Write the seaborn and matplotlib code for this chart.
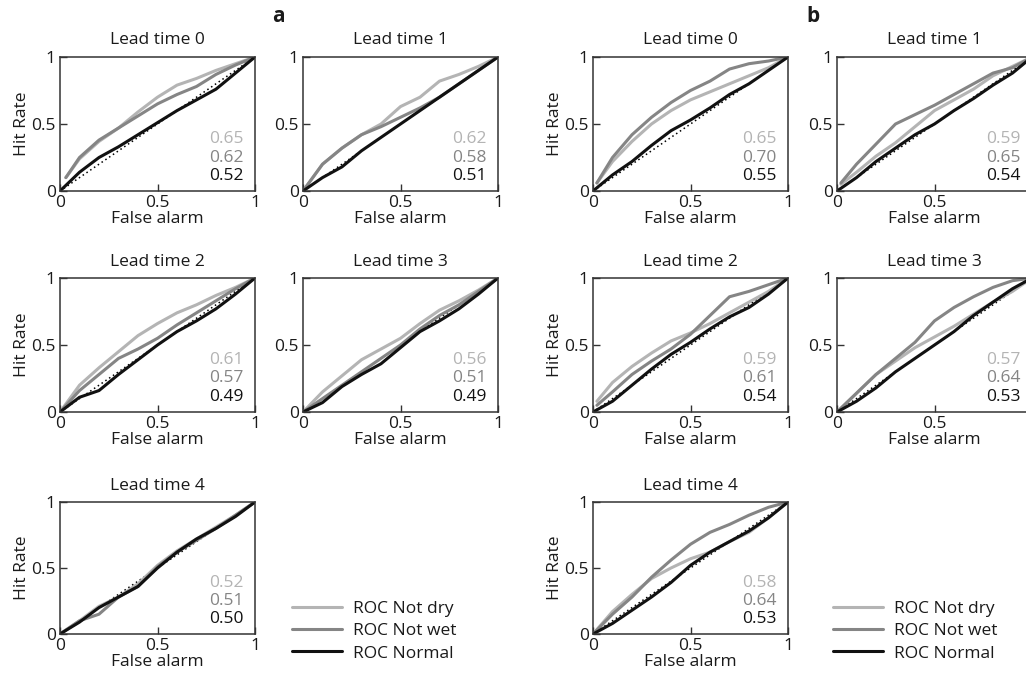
import numpy as np
import pandas as pd
import seaborn as sns
import matplotlib.pyplot as plt

# false alarm grid (first value replaced by start_x for the gray curves)
fa = [0, 0.1, 0.2, 0.3, 0.4, 0.5, 0.6, 0.7, 0.8, 0.9, 1.0]
lead_times = [0, 1, 2, 3, 4]
series = ['ROC Not dry', 'ROC Not wet', 'ROC Normal']

# panel a
a_start = [0.03, 0, 0, 0, 0]
a_not_dry = [
    [0.10, 0.24, 0.37, 0.47, 0.59, 0.70, 0.79, 0.84, 0.90, 0.95, 1],
    [0, 0.20, 0.32, 0.42, 0.50, 0.63, 0.70, 0.82, 0.87, 0.93, 1],
    [0, 0.20, 0.33, 0.45, 0.57, 0.66, 0.74, 0.80, 0.87, 0.93, 1],
    [0, 0.15, 0.27, 0.39, 0.47, 0.55, 0.66, 0.76, 0.83, 0.91, 1],
    [0, 0.10, 0.21, 0.28, 0.38, 0.52, 0.63, 0.72, 0.81, 0.90, 1],
]
a_not_wet = [
    [0.10, 0.25, 0.38, 0.47, 0.56, 0.65, 0.72, 0.78, 0.87, 0.94, 1],
    [0, 0.20, 0.32, 0.42, 0.48, 0.55, 0.62, 0.70, 0.80, 0.90, 1],
    [0, 0.16, 0.28, 0.40, 0.47, 0.55, 0.65, 0.74, 0.83, 0.92, 1],
    [0, 0.10, 0.20, 0.30, 0.40, 0.50, 0.62, 0.72, 0.80, 0.90, 1],
    [0, 0.10, 0.15, 0.28, 0.36, 0.51, 0.62, 0.71, 0.80, 0.90, 1],
]
a_normal = [
    [0, 0.14, 0.25, 0.33, 0.42, 0.51, 0.60, 0.68, 0.76, 0.88, 1],
    [0, 0.10, 0.18, 0.30, 0.40, 0.50, 0.60, 0.70, 0.80, 0.90, 1],
    [0, 0.11, 0.16, 0.28, 0.39, 0.50, 0.60, 0.68, 0.77, 0.88, 1],
    [0, 0.07, 0.19, 0.28, 0.36, 0.48, 0.60, 0.68, 0.77, 0.88, 1],
    [0, 0.09, 0.20, 0.28, 0.36, 0.50, 0.62, 0.72, 0.80, 0.89, 1],
]
a_auc = [[0.65, 0.62, 0.52], [0.62, 0.58, 0.51], [0.61, 0.57, 0.49],
         [0.56, 0.51, 0.49], [0.52, 0.51, 0.50]]

# panel b
b_start = [0.02, 0.02, 0.02, 0, 0]
b_not_dry = [
    [0.06, 0.22, 0.37, 0.50, 0.60, 0.68, 0.74, 0.80, 0.86, 0.92, 1],
    [0.05, 0.14, 0.26, 0.36, 0.48, 0.60, 0.68, 0.76, 0.86, 0.93, 1],
    [0.08, 0.22, 0.34, 0.44, 0.53, 0.59, 0.66, 0.74, 0.82, 0.90, 1],
    [0, 0.14, 0.28, 0.38, 0.48, 0.56, 0.64, 0.73, 0.82, 0.90, 1],
    [0, 0.17, 0.30, 0.42, 0.50, 0.57, 0.62, 0.70, 0.77, 0.88, 1],
]
b_not_wet = [
    [0.06, 0.25, 0.42, 0.55, 0.66, 0.75, 0.82, 0.91, 0.95, 0.97, 1],
    [0.06, 0.20, 0.35, 0.50, 0.57, 0.64, 0.72, 0.80, 0.88, 0.92, 1],
    [0.05, 0.15, 0.28, 0.38, 0.47, 0.58, 0.72, 0.86, 0.90, 0.95, 1],
    [0, 0.14, 0.28, 0.40, 0.52, 0.68, 0.78, 0.86, 0.93, 0.98, 1],
    [0, 0.15, 0.28, 0.43, 0.56, 0.68, 0.77, 0.83, 0.90, 0.96, 1],
]
b_normal = [
    [0, 0.12, 0.22, 0.34, 0.45, 0.53, 0.62, 0.72, 0.80, 0.90, 1],
    [0, 0.10, 0.22, 0.32, 0.42, 0.50, 0.60, 0.69, 0.79, 0.88, 1],
    [0, 0.08, 0.20, 0.32, 0.43, 0.52, 0.62, 0.71, 0.78, 0.88, 1],
    [0, 0.08, 0.18, 0.30, 0.40, 0.50, 0.60, 0.72, 0.82, 0.92, 1],
    [0, 0.08, 0.18, 0.28, 0.39, 0.52, 0.62, 0.70, 0.78, 0.88, 1],
]
b_auc = [[0.65, 0.70, 0.55], [0.59, 0.65, 0.54], [0.59, 0.61, 0.54],
         [0.57, 0.64, 0.53], [0.58, 0.64, 0.53]]

colors = ['#b4b4b4', '#858585', '#111111']
FS = 12.5

sns.set_theme(style='white')
plt.rcParams['font.family'] = ['Open Sans', 'DejaVu Sans']
plt.rcParams['font.size'] = FS
plt.rcParams['text.color'] = '#1a1a1a'
plt.rcParams['axes.labelcolor'] = '#1a1a1a'
plt.rcParams['xtick.color'] = '#1a1a1a'
plt.rcParams['ytick.color'] = '#1a1a1a'

fig = plt.figure(figsize=(10.26, 6.82), dpi=100)
W, H = 1026, 682

# pixel layout of the subplots
col_px = {'a': [60, 303], 'b': [593, 837]}
row_px = [(57, 191), (278, 412), (502, 634)]
legend_px = {'a': 297, 'b': 838}

panels = {
    'a': (a_start, a_not_dry, a_not_wet, a_normal, a_auc),
    'b': (b_start, b_not_dry, b_not_wet, b_normal, b_auc),
}

for pname, (start, ndry, nwet, norm, auc) in panels.items():
    for i, lt in enumerate(lead_times):
        r, c = divmod(i, 2)
        top, bot = row_px[r]
        left = col_px[pname][c]
        ax = fig.add_axes([left / W, 1 - bot / H, 195 / W, (bot - top) / H])

        rows = []
        for s, ys in zip(series, [ndry[i], nwet[i], norm[i]]):
            xs = list(fa)
            if s != 'ROC Normal':
                xs[0] = start[i]
            for x, y in zip(xs, ys):
                rows.append({'fa': x, 'hr': y, 'series': s})
        df = pd.DataFrame(rows)

        ax.plot([0, 1], [0, 1], linestyle=(0, (1, 2)), color='black', lw=1.1)
        sns.lineplot(data=df, x='fa', y='hr', hue='series', palette=colors,
                     hue_order=series, estimator=None, sort=False, lw=2.2,
                     legend=False, ax=ax)

        for k in range(3):
            ax.text(0.94, 0.39 - 0.14 * k, f'{auc[i][k]:.2f}', color=colors[k],
                    ha='right', va='center', fontsize=FS, transform=ax.transAxes)

        ax.set_xlim(0, 1)
        ax.set_ylim(0, 1)
        ax.set_xticks([0, 0.5, 1])
        ax.set_yticks([0, 0.5, 1])
        # the right column of panel b runs off the page, its "1" is not shown
        if pname == 'b' and c == 1:
            ax.set_xticklabels(['0', '0.5', ''])
        else:
            ax.set_xticklabels(['0', '0.5', '1'])
        ax.set_yticklabels(['0', '0.5', '1'])
        ax.tick_params(direction='in', length=5, width=1, color='#333333',
                       labelsize=FS, pad=3, bottom=True, left=True)
        for sp in ax.spines.values():
            sp.set_color('#333333')
            sp.set_linewidth(1.1)
        ax.set_title(f'Lead time {lt}', fontsize=FS, pad=9)
        ax.set_xlabel('False alarm', fontsize=FS, labelpad=0)
        if c == 0:
            ax.set_ylabel('Hit Rate', fontsize=FS, labelpad=1)
        else:
            ax.set_ylabel('')

    # legend in the empty slot
    handles = [plt.Line2D([], [], color=col, lw=2.2) for col in colors]
    fig.legend(handles, series, loc='upper left', frameon=False,
               bbox_to_anchor=(legend_px[pname] / W - 0.012, 1 - 594 / H),
               handlelength=2.9, handletextpad=0.65, labelspacing=0.35,
               fontsize=FS, borderaxespad=0)

fig.text(278 / W, 1 - 17 / H, 'a', fontsize=15, fontweight='bold', ha='center', va='center')
fig.text(813 / W, 1 - 17 / H, 'b', fontsize=15, fontweight='bold', ha='center', va='center')

fig.savefig('out.png', dpi=100)
